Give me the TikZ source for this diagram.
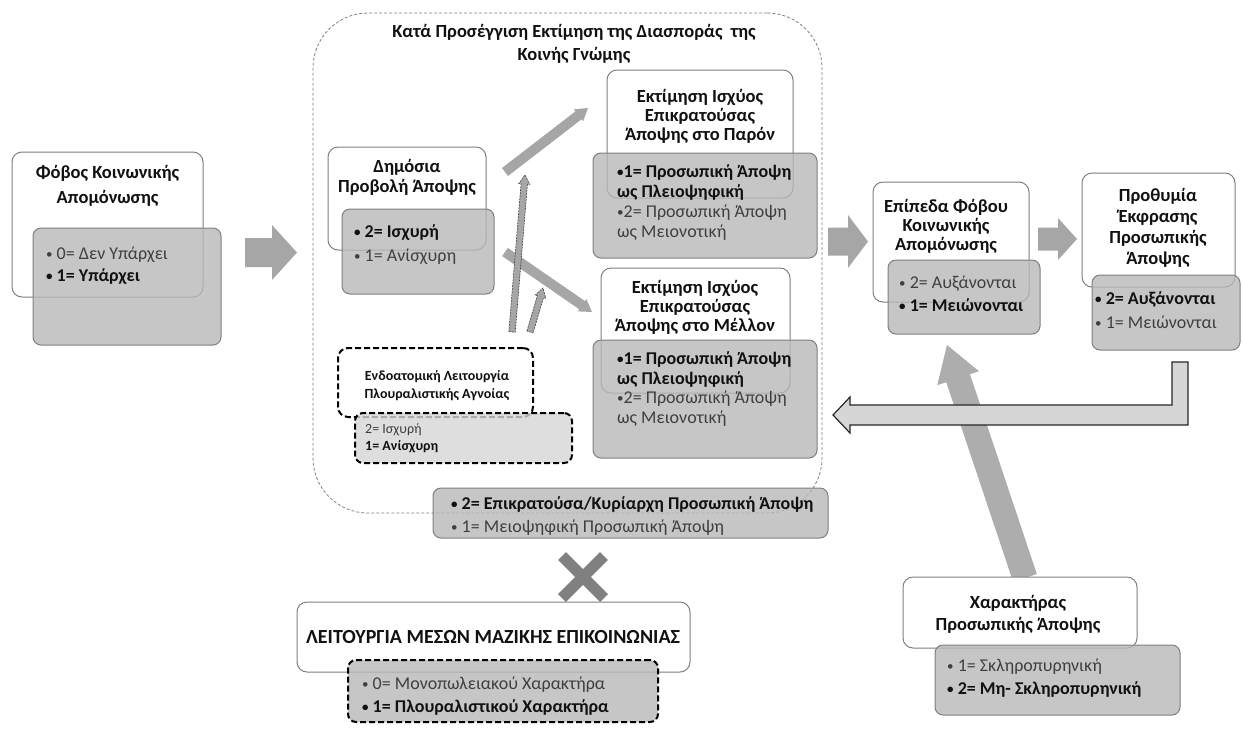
\documentclass[tikz,border=0pt]{standalone}
\usepackage{fontspec}
\setmainfont{Carlito}
\usetikzlibrary{calc,fit}
\lineskiplimit=-30pt
\definecolor{ink}{HTML}{111111}
\definecolor{txtgray}{HTML}{3F3F3F}
\definecolor{edge}{HTML}{7F7F7F}
\definecolor{boxfill}{HTML}{B8B8B8}
\definecolor{palefill}{HTML}{D6D6D6}
\definecolor{arrgray}{HTML}{A6A6A6}
\definecolor{diaggray}{HTML}{ADADAD}
\definecolor{crossgray}{HTML}{808080}
\newcommand\hi[1]{\textcolor{ink}{\bfseries #1}}
\newcommand\bul{{\fontsize{13}{0}\selectfont\raisebox{1pt}{•}}}
% filled block arrow: style, tail, tip, half shaft, head length, half head
\newcommand\fatarrow[6]{%
  \path[#1] ($(#2)!#4!90:(#3)$) -- ($($(#3)!#5!(#2)$)!#4!90:(#3)$)
    -- ($($(#3)!#5!(#2)$)!#6!90:(#3)$) -- (#3)
    -- ($($(#3)!#5!(#2)$)!#6!-90:(#3)$) -- ($($(#3)!#5!(#2)$)!#4!-90:(#3)$)
    -- ($(#2)!#4!-90:(#3)$) -- cycle;}
\tikzset{
  wbox/.style={draw=edge, line width=1pt, rounded corners=10pt, fill=white, inner sep=0pt},
  gbox/.style={draw=edge, line width=1pt, rounded corners=8pt, fill=boxfill, fill opacity=.8, inner sep=0pt},
  dwbox/.style={wbox, draw=black, line width=2pt, dash pattern=on 6pt off 3pt},
  dgbox/.style={gbox, draw=black, line width=2pt, dash pattern=on 6pt off 3pt},
  hdr/.style={font=\fontsize{18.5}{#1}\selectfont\bfseries, text=ink, align=center, inner sep=0pt},
  hdr/.default=20,
  items/.style={font=\fontsize{18}{#1}\selectfont, text=txtgray, align=left, inner sep=0pt, anchor=west},
  items/.default=23,
  fat/.style={fill=arrgray},
  hatched/.style={fill=arrgray, draw=black!75, line width=.6pt, dash pattern=on 2pt off 1pt},
  backarrow/.style={fill=palefill, draw=black!85, line width=1.2pt, line join=miter}
}
\begin{document}
\begin{tikzpicture}[x=1pt,y=-1pt]
\useasboundingbox (0,0) rectangle (1243,732);
\node[draw=edge, line width=.8pt, dash pattern=on 3pt off 2pt, rounded corners=55pt, inner sep=0pt, fit={(313,13) (822,513)}] (scope) {};
\node[hdr=23] (scopet) at (574,43.5) {Κατά Προσέγγιση Εκτίμηση της Διασποράς~ της\\Κοινής Γνώμης};

\node[wbox, fit={(12,152) (203,297)}] (fear) {};
\node[gbox, fit={(33,228) (221,345)}] (fearv) {};
\node[hdr=25] (feart) at (107.5,185.5) {Φόβος Κοινωνικής\\Απομόνωσης};
\node[items=22] (fearl) at (46,266) {\bul\ 0= Δεν Υπάρχει\\\hi{\bul\ 1= Υπάρχει}};

\node[wbox, fit={(328,147) (486,250)}] (pub) {};
\node[gbox, fit={(342,209) (494,294)}] (pubv) {};
\node[hdr] (pubt) at (407,177) {Δημόσια\\Προβολή Άποψης};
\node[items=24] (publ) at (354,245) {\hi{\bul\ 2= Ισχυρή}\\\bul\ 1= Ανίσχυρη};

\node[wbox, fit={(607,70) (793,198)}] (now) {};
\node[gbox, fit={(593,153) (817,258)}] (nowv) {};
\node[hdr=19] (nowt) at (700,116) {Εκτίμηση Ισχύος\\Επικρατούσας\\Άποψης στο Παρόν};
\node[items=20] (nowl) at (617,203) {\hi{\bul 1= Προσωπική Άποψη}\\\hi{ως Πλειοψηφική}\\\bul 2= Προσωπική Άποψη\\ως Μειονοτική};

\node[wbox, fit={(601,268) (790,393)}] (fut) {};
\node[gbox, fit={(593,340) (817,458)}] (futv) {};
\node[hdr=19] (futt) at (695,307.5) {Εκτίμηση Ισχύος\\Επικρατούσας\\Άποψης στο Μέλλον};
\node[items=19.5] (futl) at (617,389) {\hi{\bul 1= Προσωπική Άποψη}\\\hi{ως Πλειοψηφική}\\\bul 2= Προσωπική Άποψη\\ως Μειονοτική};

\node[dwbox, fit={(338,348) (533,417)}] (ign) {};
\node[dgbox, fill=palefill, fit={(355,413) (572,463)}] (ignv) {};
\node[hdr, font=\fontsize{14}{18}\selectfont\bfseries] (ignt) at (437,386) {Ενδοατομική Λειτουργία\\Πλουραλιστικής Αγνοίας};
\node[items, font=\fontsize{14}{17}\selectfont] (ignl) at (365,438.5) {2= Ισχυρή\\\hi{1= Ανίσχυρη}};

\coordinate (u1) at (505,172); \coordinate (u2) at (588,108);
\coordinate (d1) at (505,252); \coordinate (d2) at (592,312);
\fatarrow{fat}{u1}{u2}{5pt}{12pt}{7.5pt}
\fatarrow{fat}{d1}{d2}{5pt}{12pt}{7.5pt}
\coordinate (h1) at (512,332); \coordinate (h2) at (525,175);
\coordinate (k1) at (530,332); \coordinate (k2) at (543,288);
\fatarrow{hatched}{h1}{h2}{3.2pt}{9pt}{5.5pt}
\fatarrow{hatched}{k1}{k2}{3.2pt}{9pt}{5.5pt}

\node[gbox, fit={(433,488) (828,538)}] (dom) {};
\node[items] (doml) at (451,516.5) {\hi{\bul\ 2= Επικρατούσα/Κυρίαρχη Προσωπική Άποψη}\\\bul\ 1= Μειοψηφική Προσωπική Άποψη};

\draw[crossgray, line width=11pt] (562,556) -- (604,598) (562,598) -- (604,556);

\node[wbox, fit={(297,602) (690,672)}] (mme) {};
\node[dgbox, fit={(348,660) (658,722)}] (mmev) {};
\node[hdr, font=\fontsize{20}{20}\selectfont\bfseries] (mmet) at (493,637) {ΛΕΙΤΟΥΡΓΙΑ ΜΕΣΩΝ ΜΑΖΙΚΗΣ ΕΠΙΚΟΙΝΩΝΙΑΣ};
\node[items] (mmel) at (362,696.5) {\bul\ 0= Μονοπωλειακού Χαρακτήρα\\\hi{\bul\ 1= Πλουραλιστικού Χαρακτήρα}};

\node[wbox, fit={(873,182) (1029,302)}] (lvl) {};
\node[gbox, fit={(888,260) (1040,334)}] (lvlv) {};
\node[hdr=19] (lvlt) at (946,226) {Επίπεδα Φόβου\\Κοινωνικής\\Απομόνωσης};
\node[items] (lvll) at (899,293.5) {\bul\ 2= Αυξάνονται\\\hi{\bul\ 1= Μειώνονται}};

\node[wbox, fit={(1082,173) (1235,287)}] (will) {};
\node[gbox, fit={(1092,275) (1240,350)}] (willv) {};
\node[hdr=21] (willt) at (1158,228) {Προθυμία\\Έκφρασης\\Προσωπικής\\Άποψης};
\node[items=24] (willl) at (1095,310) {\hi{\bul\ 2= Αυξάνονται}\\\bul\ 1= Μειώνονται};

\coordinate (a1) at (245,252.5); \coordinate (b1) at (297,252.5);
\coordinate (a2) at (828,241.5); \coordinate (b2) at (868,241.5);
\coordinate (a3) at (1038,239); \coordinate (b3) at (1077,239);
\fatarrow{fat}{a1}{b1}{14.5pt}{25pt}{27.5pt}
\fatarrow{fat}{a2}{b2}{14pt}{20pt}{26.5pt}
\fatarrow{fat}{a3}{b3}{11.5pt}{19pt}{21pt}

\coordinate (c1) at (1025,578); \coordinate (c2) at (947,345);
\fatarrow{fill=diaggray}{c1}{c2}{12.5pt}{35pt}{22pt}

\draw[backarrow] (1188,362) -- (1188,425) -- (850,425) -- (850,433) -- (833,415) -- (850,397) -- (850,405) -- (1172,405) -- (1172,362) -- cycle;

\node[wbox, fit={(903,577) (1137,648)}] (char) {};
\node[gbox, fit={(935,645) (1180,715)}] (charv) {};
\node[hdr=22] (chart) at (1018,614) {Χαρακτήρας\\Προσωπικής Άποψης};
\node[items] (charl) at (947,678.5) {\bul\ 1= Σκληροπυρηνική\\\hi{\bul\ 2= Μη- Σκληροπυρηνική}};
\end{tikzpicture}
\end{document}
